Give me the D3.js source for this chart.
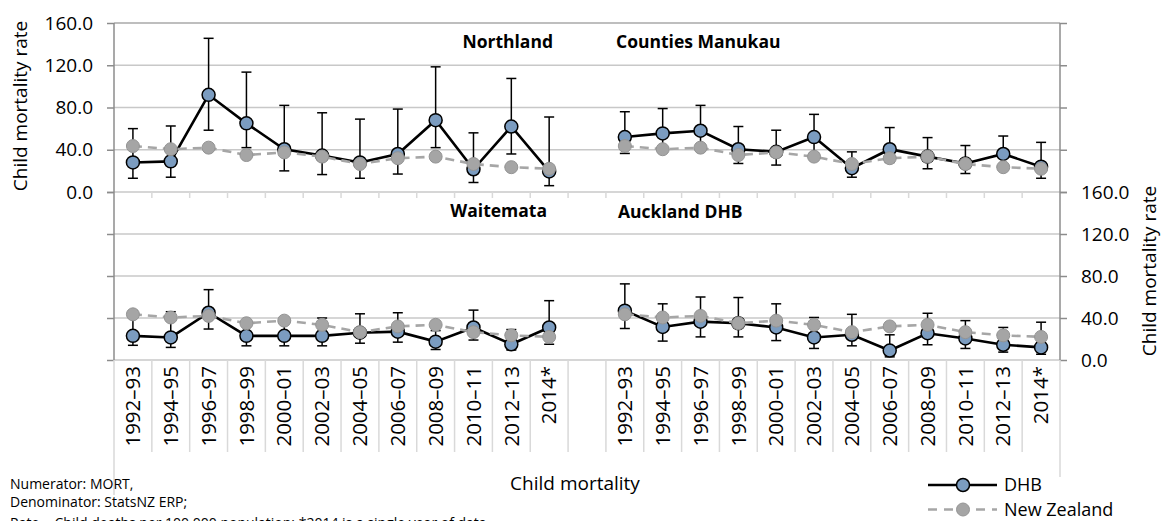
<!DOCTYPE html>
<html><head><meta charset="utf-8">
<script src="https://cdn.jsdelivr.net/npm/d3@7"></script>
<style>body{margin:0;background:#fff}svg{display:block}text{font-family:"Open Sans",sans-serif;fill:#000}</style>
</head><body><svg id="c" width="1162" height="521"></svg>
<script>
const periods = ["1992–93","1994–95","1996–97","1998–99","2000–01","2002–03","2004–05","2006–07","2008–09","2010–11","2012–13","2014*"];
const yTicks = [0,40,80,120,160];
const nzRate = [43.5,40.5,42,35,37.5,33.5,26.5,32,33.5,26.5,23.5,22];

const northlandRate = [28,29,92,65,40.5,34.5,28,36,68,21.5,62,19.5];
const northlandHi   = [60,62.5,145.5,113.5,82,75,69,78.5,118.5,56,107.5,71];
const northlandLo   = [13,14,58.5,42,20,16.5,13,17,42,9,36,6];

const countiesRate = [52,55.5,58,40.5,38,52,22.5,40.5,33.5,27,36,24];
const countiesHi   = [76,79,82,62,58.5,73.5,38,61,51.5,44,53,47];
const countiesLo   = [36.5,38,40,27,25.5,37,14,28,22,17.5,22,13];

const waitemataRate = [23,21.5,45,23,23,23,26,27,17.5,31,15,31];
const waitemataHi   = [47,46,67,35,37,40,44,45,28,47.5,29,56.5];
const waitemataLo   = [14,12,29.5,13.5,13.5,13.5,16,17,10,19,9.5,15];

const aucklandRate = [47,31.5,36.5,35,31,21.5,24,9,25.5,20.5,14.5,12];
const aucklandHi   = [72.5,53.5,60,59.5,53.5,40.5,43.5,24,44.5,37.5,31,36];
const aucklandLo   = [30,18,22,22,18.5,11,13.5,3,14.5,11,7.5,5.5];

const panelTitles = ["Northland","Counties Manukau","Waitemata","Auckland DHB"];

const svg = d3.select("#c");
const slots = [...periods.map(p=>"L|"+p), "gap", ...periods.map(p=>"R|"+p)];
const x = d3.scaleBand().domain(slots).range([114,1060]).padding(0);
const yTop = d3.scaleLinear().domain([0,160]).range([192,23]);
const yBot = d3.scaleLinear().domain([0,160]).range([360,192]);

const GRID="#c8c8c8", AX="#8c8c8c", SEP="#d9d9d9";

[yTop,yBot].forEach(y=>{
  svg.append("g").selectAll("line").data(yTicks.filter(v=>v>0)).join("line")
    .attr("x1",114).attr("x2",1060).attr("y1",d=>y(d)).attr("y2",d=>y(d))
    .attr("stroke",d=>(y===yTop&&d===160)?"#a8a8a8":GRID).attr("stroke-width",1.5);
});
svg.append("line").attr("x1",114).attr("x2",1060).attr("y1",yBot(0)).attr("y2",yBot(0)).attr("stroke",GRID).attr("stroke-width",1.5);

const fmt = d3.format(".1f");
const leftTop = svg.append("g").attr("transform","translate(114,0)")
  .call(d3.axisLeft(yTop).tickValues(yTicks).tickFormat(fmt).tickSize(7).tickPadding(14));
const leftBot = svg.append("g").attr("transform","translate(114,0)")
  .call(d3.axisLeft(yBot).tickValues(yTicks).tickFormat("").tickSize(7));
const rightTop = svg.append("g").attr("transform","translate(1060,0)")
  .call(d3.axisRight(yTop).tickValues(yTicks).tickFormat("").tickSize(7));
const rightBot = svg.append("g").attr("transform","translate(1060,0)")
  .call(d3.axisRight(yBot).tickValues(yTicks).tickFormat(fmt).tickSize(7).tickPadding(14));
[leftTop,leftBot,rightTop,rightBot].forEach(g=>{
  g.select(".domain").remove();
  g.selectAll(".tick line").attr("stroke",AX).attr("stroke-width",1.5);
  g.selectAll(".tick text").attr("font-size",19).attr("font-family","Open Sans").attr("fill","#000");
});
svg.append("line").attr("x1",114).attr("x2",114).attr("y1",23).attr("y2",360).attr("stroke",AX).attr("stroke-width",1.5);
svg.append("line").attr("x1",1060).attr("x2",1060).attr("y1",23).attr("y2",360).attr("stroke",AX).attr("stroke-width",1.5);

const bounds = slots.map(s=>x(s)).concat([x.range()[1]]);
svg.append("g").selectAll("line").data(bounds.slice(1,-1)).join("line")
  .attr("x1",d=>d).attr("x2",d=>d).attr("y1",192).attr("y2",198).attr("stroke",SEP).attr("stroke-width",1.5);
svg.append("g").selectAll("line").data(bounds).join("line")
  .attr("x1",d=>d).attr("x2",d=>d).attr("y1",360)
  .attr("y2",(d,i)=> i===0?495:(i===bounds.length-1?477:452))
  .attr("stroke",SEP).attr("stroke-width",1.5);

const bottomAxis = svg.append("g").attr("transform","translate(0,360)")
  .call(d3.axisBottom(x).tickSize(0).tickFormat(s=>s==="gap"?"":s.slice(2)));
bottomAxis.select(".domain").remove();
bottomAxis.selectAll(".tick text")
  .attr("transform","rotate(-90)").attr("text-anchor","end")
  .attr("x",-6).attr("y",0).attr("dy","0.35em")
  .attr("font-size",20.5).attr("font-family","Open Sans").attr("fill","#000");

const panels = [
  {side:"L", y:yTop, rate:northlandRate, hi:northlandHi, lo:northlandLo},
  {side:"R", y:yTop, rate:countiesRate, hi:countiesHi, lo:countiesLo},
  {side:"L", y:yBot, rate:waitemataRate, hi:waitemataHi, lo:waitemataLo},
  {side:"R", y:yBot, rate:aucklandRate, hi:aucklandHi, lo:aucklandLo}
];
const cx = (side,i)=> x(side+"|"+periods[i]) + x.bandwidth()/2;

panels.forEach(p=>{
  const g = svg.append("g");
  const idx = d3.range(periods.length);
  const eb = g.append("g").attr("stroke","#000").attr("stroke-width",1.5);
  idx.forEach(i=>{
    const X = cx(p.side,i);
    eb.append("line").attr("x1",X).attr("x2",X).attr("y1",p.y(p.hi[i])).attr("y2",p.y(p.lo[i]));
    eb.append("line").attr("x1",X-5).attr("x2",X+5).attr("y1",p.y(p.hi[i])).attr("y2",p.y(p.hi[i]));
    eb.append("line").attr("x1",X-5).attr("x2",X+5).attr("y1",p.y(p.lo[i])).attr("y2",p.y(p.lo[i]));
  });
  const line = d3.line().x(i=>cx(p.side,i));
  g.append("path").attr("d",line.y(i=>p.y(p.rate[i]))(idx)).attr("fill","none").attr("stroke","#000").attr("stroke-width",2.6);
  g.append("g").selectAll("circle").data(idx).join("circle")
    .attr("cx",i=>cx(p.side,i)).attr("cy",i=>p.y(p.rate[i])).attr("r",6.5)
    .attr("fill","#7b9cc0").attr("stroke","#000").attr("stroke-width",1.5);
  g.append("path").attr("d",d3.line().x(i=>cx(p.side,i)).y(i=>p.y(nzRate[i]))(idx))
    .attr("fill","none").attr("stroke","#a6a6a6").attr("stroke-width",2.6).attr("stroke-dasharray","9,6");
  g.append("g").selectAll("circle").data(idx).join("circle")
    .attr("cx",i=>cx(p.side,i)).attr("cy",i=>p.y(nzRate[i])).attr("r",6.5)
    .attr("fill","#a5a5a5").attr("stroke","#949494").attr("stroke-width",1);
});

const tt = [
  {t:panelTitles[0], x:553, y:48, a:"end"},
  {t:panelTitles[1], x:616, y:48, a:"start"},
  {t:panelTitles[2], x:547, y:217, a:"end"},
  {t:panelTitles[3], x:618, y:218, a:"start"}
];
svg.append("g").selectAll("text").data(tt).join("text")
  .attr("x",d=>d.x).attr("y",d=>d.y).attr("text-anchor",d=>d.a)
  .attr("font-size",17.5).attr("font-weight","bold").text(d=>d.t);

svg.append("text").attr("transform","translate(27,106) rotate(-90)").attr("text-anchor","middle")
  .attr("font-size",19).text("Child mortality rate");
svg.append("text").attr("transform","translate(1156,271) rotate(-90)").attr("text-anchor","middle")
  .attr("font-size",19).text("Child mortality rate");
svg.append("text").attr("x",575).attr("y",490).attr("text-anchor","middle")
  .attr("font-size",19).text("Child mortality");

const notes = ["Numerator: MORT,","Denominator: StatsNZ ERP;","Rate = Child deaths per 100,000 population; *2014 is a single year of data"];
const noteY = [489,507,528];
svg.append("g").selectAll("text").data(notes).join("text")
  .attr("x",10).attr("y",(d,i)=>noteY[i]).attr("font-size",14).text(d=>d);

const lg = svg.append("g");
lg.append("line").attr("x1",928).attr("x2",997).attr("y1",485).attr("y2",485).attr("stroke","#000").attr("stroke-width",2.6);
lg.append("circle").attr("cx",963).attr("cy",485).attr("r",6.5).attr("fill","#7b9cc0").attr("stroke","#000").attr("stroke-width",1.5);
lg.append("text").attr("x",1004).attr("y",491).attr("font-size",18).text("DHB");
lg.append("line").attr("x1",928).attr("x2",997).attr("y1",509.5).attr("y2",509.5).attr("stroke","#a6a6a6").attr("stroke-width",2.6).attr("stroke-dasharray","9,7");
lg.append("circle").attr("cx",963).attr("cy",509.5).attr("r",6.5).attr("fill","#a5a5a5").attr("stroke","#949494").attr("stroke-width",1);
lg.append("text").attr("x",1004).attr("y",515.5).attr("font-size",18).text("New Zealand");
</script></body></html>
